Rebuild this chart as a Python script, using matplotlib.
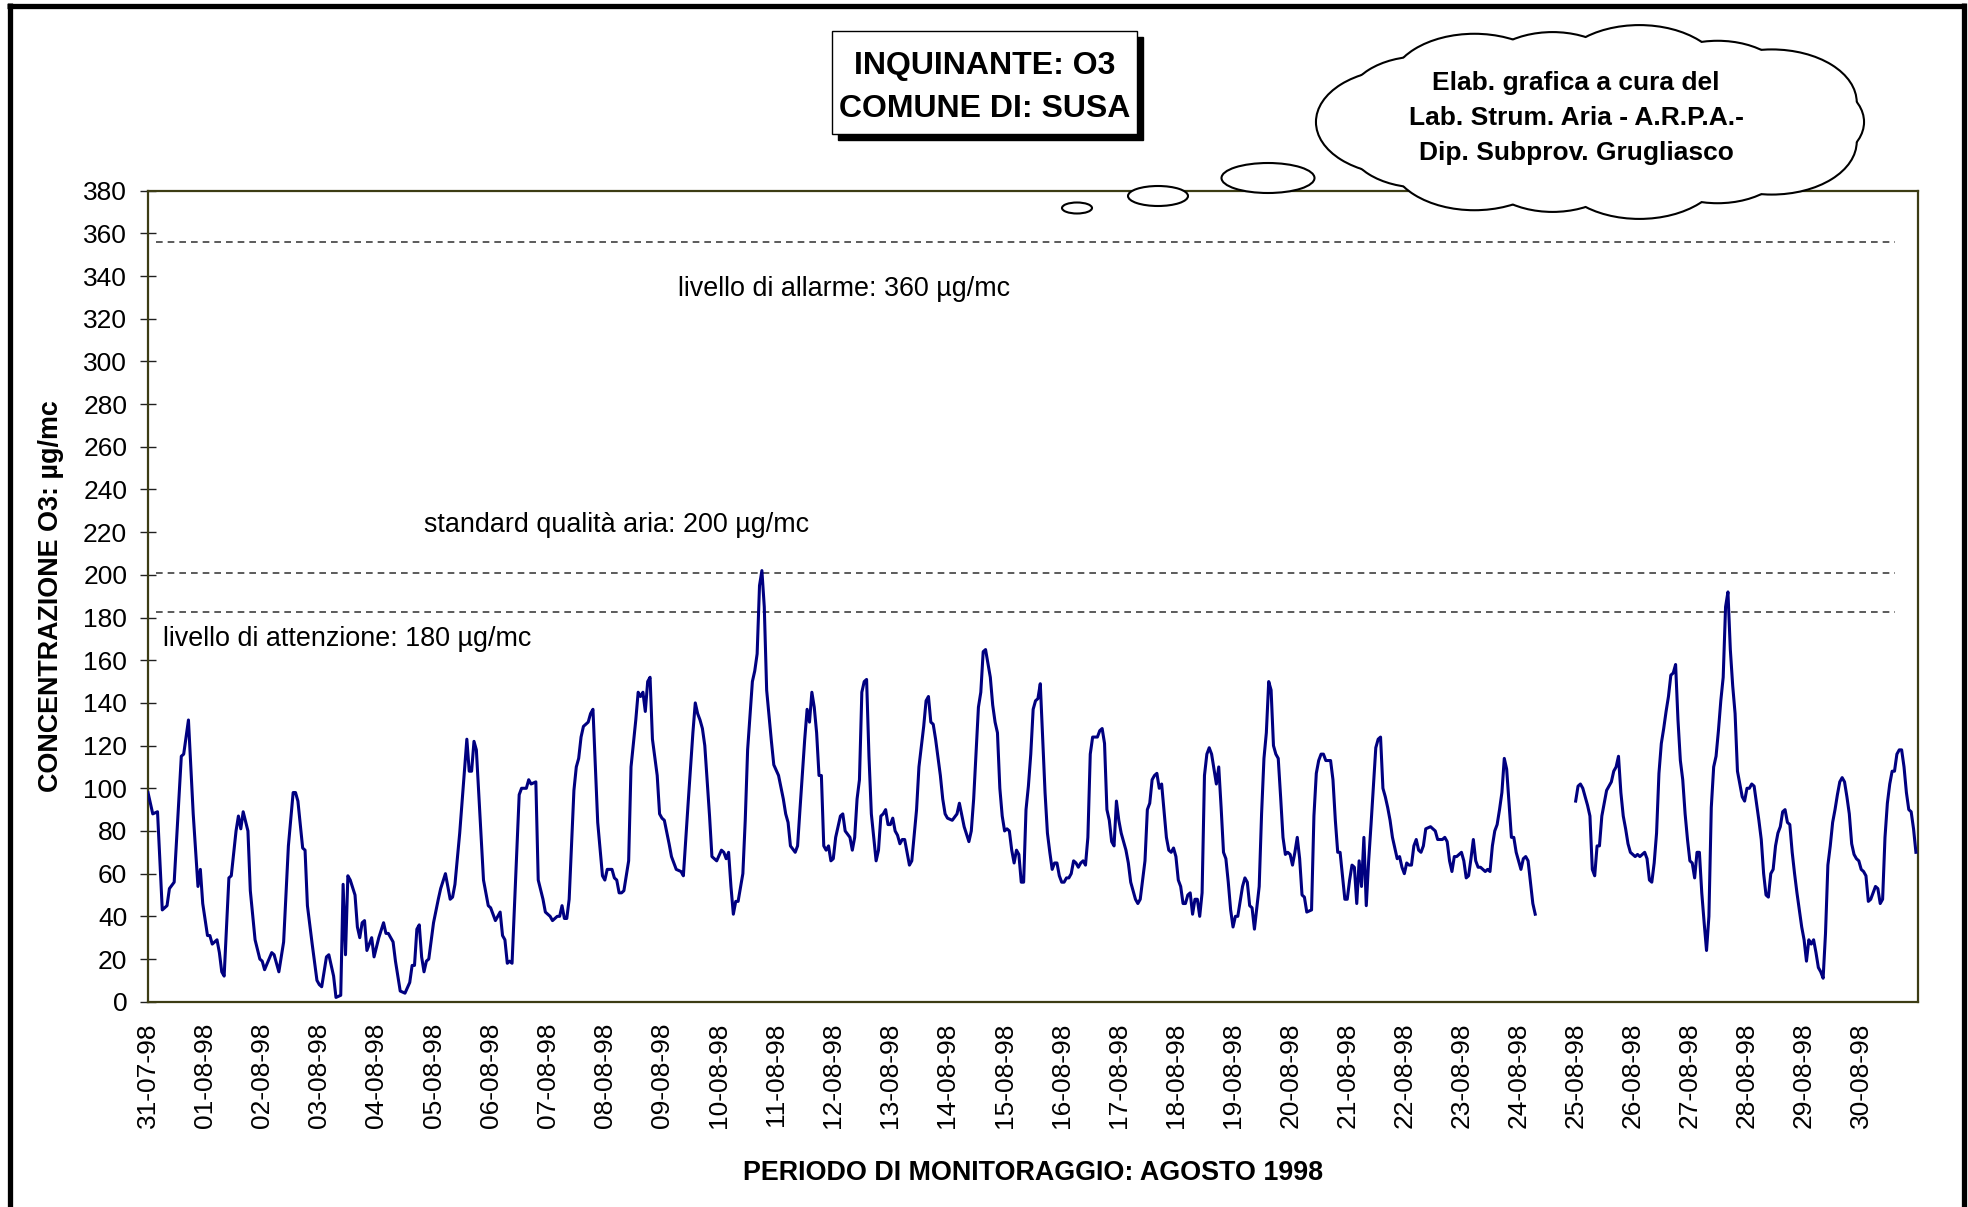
import numpy as np
import matplotlib
matplotlib.use("Agg")
import matplotlib.pyplot as plt
from matplotlib.patches import Ellipse, Rectangle

plt.rcParams['font.family'] = ['Liberation Sans', 'DejaVu Sans']

# hourly O3 readings (hour since 31-07-98 00:00, ug/mc)
# the instrument has no data between the two segments (24/25-08)
segment_1 = [
    (0, 98), (2, 88), (4, 89), (6, 43), (8, 45), (9, 53), (11, 56), (14, 115), (15, 116), (17, 132),
    (19, 88), (21, 54), (22, 62), (23, 46), (25, 31), (26, 31), (27, 27), (29, 29), (30, 23), (31, 14),
    (32, 12), (34, 58), (35, 59), (37, 80), (38, 87), (39, 81), (40, 89), (42, 80), (43, 52), (45, 29),
    (47, 20), (48, 19), (49, 15), (52, 23), (53, 22), (55, 14), (57, 28), (59, 73), (61, 98), (62, 98),
    (63, 94), (65, 72), (66, 71), (67, 45), (69, 27), (71, 10), (72, 8), (73, 7), (75, 21), (76, 22),
    (78, 12), (79, 2), (81, 3), (82, 55), (83, 22), (84, 59), (85, 57), (87, 50), (88, 35), (89, 30),
    (90, 37), (91, 38), (92, 24), (94, 30), (95, 21), (97, 30), (99, 37), (100, 32), (101, 32), (103, 28),
    (104, 19), (106, 5), (108, 4), (110, 9), (111, 17), (112, 17), (113, 34), (114, 36), (115, 21), (116, 14),
    (117, 19), (118, 20), (120, 37), (122, 48), (123, 53), (125, 60), (127, 48), (128, 49), (129, 55), (131, 79),
    (134, 123), (135, 108), (136, 108), (137, 122), (138, 118), (141, 57), (143, 45), (144, 44), (146, 38), (148, 42),
    (149, 31), (150, 29), (151, 18), (152, 19), (153, 18), (156, 97), (157, 100), (159, 100), (160, 104), (161, 102),
    (163, 103), (164, 57), (166, 48), (167, 42), (169, 40), (170, 38), (172, 40), (173, 40), (174, 45), (175, 39),
    (176, 39), (177, 48), (179, 99), (180, 110), (181, 114), (182, 124), (183, 129), (185, 131), (186, 135), (187, 137),
    (189, 84), (191, 59), (192, 57), (193, 62), (195, 62), (196, 58), (197, 57), (198, 51), (199, 51), (200, 52),
    (202, 66), (203, 110), (205, 132), (206, 145), (207, 143), (208, 145), (209, 136), (210, 150), (211, 152), (212, 123),
    (214, 106), (215, 88), (216, 86), (217, 85), (219, 74), (220, 68), (222, 62), (224, 61), (225, 59), (227, 93),
    (229, 126), (230, 140), (231, 135), (232, 132), (233, 128), (234, 120), (236, 87), (237, 68), (239, 66), (241, 71),
    (242, 70), (243, 67), (244, 70), (245, 54), (246, 41), (247, 47), (248, 47), (250, 60), (251, 85), (252, 118),
    (254, 150), (255, 155), (256, 163), (257, 195), (258, 202), (259, 185), (260, 146), (262, 122), (263, 111), (265, 106),
    (267, 95), (268, 88), (269, 84), (270, 73), (272, 70), (273, 73), (274, 90), (276, 123), (277, 137), (278, 131),
    (279, 145), (280, 138), (281, 126), (282, 106), (283, 106), (284, 73), (285, 71), (286, 73), (287, 66), (288, 67),
    (289, 77), (291, 87), (292, 88), (293, 80), (295, 77), (296, 71), (297, 77), (298, 95), (299, 104), (300, 145),
    (301, 150), (302, 151), (303, 115), (304, 88), (305, 77), (306, 66), (307, 71), (308, 87), (309, 88), (310, 90),
    (311, 83), (312, 83), (313, 86), (314, 80), (315, 78), (316, 74), (317, 76), (318, 76), (319, 70), (320, 64),
    (321, 66), (323, 90), (324, 110), (326, 129), (327, 141), (328, 143), (329, 131), (330, 130), (331, 123), (333, 106),
    (334, 95), (335, 88), (336, 86), (338, 85), (340, 88), (341, 93), (343, 82), (345, 75), (346, 80), (347, 95),
    (349, 138), (350, 145), (351, 164), (352, 165), (354, 152), (355, 139), (356, 131), (357, 126), (358, 100), (359, 87),
    (360, 80), (361, 81), (362, 80), (363, 71), (364, 65), (365, 71), (366, 69), (367, 56), (368, 56), (369, 90),
    (370, 101), (371, 116), (372, 137), (373, 141), (374, 142), (375, 149), (376, 123), (377, 98), (378, 79), (379, 70),
    (380, 62), (381, 65), (382, 65), (383, 59), (384, 56), (385, 56), (386, 58), (387, 58), (388, 60), (389, 66),
    (390, 65), (391, 63), (392, 65), (393, 66), (394, 64), (395, 77), (396, 116), (397, 124), (399, 124), (400, 127),
    (401, 128), (402, 121), (403, 90), (404, 85), (405, 75), (406, 73), (407, 94), (408, 85), (409, 79), (411, 71),
    (412, 65), (413, 56), (414, 52), (415, 48), (416, 46), (417, 48), (419, 66), (420, 90), (421, 93), (422, 104),
    (423, 106), (424, 107), (425, 100), (426, 102), (428, 77), (429, 71), (430, 70), (431, 72), (432, 68), (433, 57),
    (434, 54), (435, 46), (436, 46), (437, 50), (438, 51), (439, 41), (440, 48), (441, 48), (442, 40), (443, 51),
    (444, 106), (445, 116), (446, 119), (447, 116), (448, 109), (449, 102), (450, 110), (451, 91), (452, 70), (453, 67),
    (454, 56), (455, 43), (456, 35), (457, 40), (458, 40), (460, 54), (461, 58), (462, 56), (463, 45), (464, 44),
    (465, 34), (467, 54), (468, 88), (469, 114), (470, 126), (471, 150), (472, 146), (473, 120), (474, 116), (475, 114),
    (476, 96), (477, 77), (478, 69), (479, 70), (480, 69), (481, 64), (482, 70), (483, 77), (484, 67), (485, 50),
    (486, 49), (487, 42), (489, 43), (490, 87), (491, 107), (492, 113), (493, 116), (494, 116), (495, 113), (497, 113),
    (498, 104), (499, 85), (500, 70), (501, 70), (502, 59), (503, 48), (504, 48), (505, 57), (506, 64), (507, 63),
    (508, 46), (509, 66), (510, 54), (511, 77), (512, 45), (513, 66), (514, 83), (515, 101), (516, 119), (517, 123),
    (518, 124), (519, 100), (520, 96), (521, 91), (522, 85), (523, 77), (524, 72), (525, 67), (526, 68), (527, 63),
    (528, 60), (529, 65), (530, 64), (531, 64), (532, 73), (533, 76), (534, 71), (535, 70), (536, 73), (537, 81),
    (539, 82), (540, 81), (541, 80), (542, 76), (544, 76), (545, 77), (546, 75), (547, 66), (548, 61), (549, 68),
    (550, 68), (551, 69), (552, 70), (553, 66), (554, 58), (555, 59), (556, 67), (557, 76), (558, 66), (559, 63),
    (560, 63), (561, 62), (562, 61), (563, 62), (564, 61), (565, 73), (566, 80), (567, 83), (568, 90), (569, 98),
    (570, 114), (571, 109), (572, 93), (573, 77), (574, 77), (575, 70), (576, 66), (577, 62), (578, 67), (579, 68),
    (580, 66), (581, 56), (582, 46), (583, 41),
]
segment_2 = [
    (600, 94), (601, 101), (602, 102), (603, 100), (604, 96), (605, 92), (606, 87), (607, 62), (608, 59), (609, 73),
    (610, 73), (611, 87), (612, 93), (613, 99), (614, 101), (615, 103), (616, 108), (617, 110), (618, 115), (619, 98),
    (620, 87), (621, 81), (622, 74), (623, 70), (624, 69), (625, 68), (626, 69), (627, 68), (628, 69), (629, 70),
    (630, 67), (631, 57), (632, 56), (633, 65), (634, 79), (635, 107), (636, 121), (637, 128), (638, 136), (639, 143),
    (640, 153), (641, 154), (642, 158), (643, 132), (644, 113), (645, 104), (646, 88), (647, 76), (648, 66), (649, 65),
    (650, 58), (651, 70), (652, 70), (653, 51), (654, 37), (655, 24), (656, 40), (657, 91), (658, 110), (659, 115),
    (660, 127), (661, 141), (662, 152), (663, 185), (664, 192), (665, 165), (666, 148), (667, 135), (668, 108), (669, 102),
    (670, 96), (671, 94), (672, 100), (673, 100), (674, 102), (675, 101), (676, 93), (677, 85), (678, 76), (679, 60),
    (680, 50), (681, 49), (682, 60), (683, 62), (684, 73), (685, 79), (686, 82), (687, 89), (688, 90), (689, 84),
    (690, 83), (691, 70), (692, 60), (693, 51), (694, 43), (695, 35), (696, 29), (697, 19), (698, 29), (699, 27),
    (700, 29), (701, 23), (702, 16), (703, 14), (704, 11), (705, 32), (706, 64), (707, 73), (708, 84), (709, 90),
    (710, 97), (711, 103), (712, 105), (713, 103), (714, 96), (715, 88), (716, 74), (717, 69), (718, 67), (719, 66),
    (720, 62), (721, 61), (722, 59), (723, 47), (724, 48), (725, 51), (726, 54), (727, 53), (728, 46), (729, 48),
    (730, 77), (731, 93), (732, 102), (733, 108), (734, 108), (735, 116), (736, 118), (737, 118), (738, 110), (739, 98),
    (740, 90), (741, 89), (742, 81), (743, 70),
]

day_labels = ['31-07-98'] + ['%02d-08-98' % d for d in range(1, 31)]

# reference levels as drawn on the chart
level_values = [356, 201, 182.5]
level_texts = ['livello di allarme: 360 \u00b5g/mc',
               'standard qualit\u00e0 aria: 200 \u00b5g/mc',
               'livello di attenzione: 180 \u00b5g/mc']

W, H = 1968, 1207
fig = plt.figure(figsize=(W / 100, H / 100), dpi=100)
fig.patch.set_facecolor('white')

ax = fig.add_axes([148 / W, 1 - 1001.7 / H, (1918.3 - 148) / W, (1001.7 - 190.7) / H])
for seg in (segment_1, segment_2):
    h, v = zip(*seg)
    ax.plot(h, v, color='#000080', lw=2.2, solid_joinstyle='round', zorder=3)

ax.hlines(level_values, 3.5, 734, colors='#404040', lw=1.2, linestyles=(0, (4, 3)), zorder=2)

ax.set_xlim(0, 744)
ax.set_ylim(0, 380)
ax.set_yticks(np.arange(0, 381, 20))
ax.set_xticks(np.arange(0, 744, 24))
ax.set_xticklabels(day_labels, rotation=90, ha='center', va='top')
ax.tick_params(axis='y', direction='inout', length=12, width=1, color='#202020',
               labelsize=19, pad=9)
ax.tick_params(axis='x', length=0, labelsize=19, pad=15)
for s in ax.spines.values():
    s.set_color('#3c3c14')
    s.set_linewidth(1.6)

# overlay in pixel coordinates for frame, title box and callout
ov = fig.add_axes([0, 0, 1, 1], zorder=5)
ov.set_xlim(0, W)
ov.set_ylim(H, 0)
ov.axis('off')
ov.patch.set_alpha(0)

ov.plot([9.5, 9.5], [3, H], color='black', lw=3.8, solid_capstyle='butt')
ov.plot([7, 1965], [5.5, 5.5], color='black', lw=3.8, solid_capstyle='butt')
ov.plot([1964, 1964], [3, H], color='black', lw=3.8, solid_capstyle='butt')

fig.text(51 / W, 1 - 596 / H, 'CONCENTRAZIONE O3: \u00b5g/mc', rotation=90,
         ha='center', va='center', fontsize=19.4, fontweight='bold')
fig.text(1033 / W, 1 - 1173 / H, 'PERIODO DI MONITORAGGIO: AGOSTO 1998',
         ha='center', va='center', fontsize=19.4, fontweight='bold')

# title box with shadow
ov.add_patch(Rectangle((838, 37), 305, 103, facecolor='black', edgecolor='black', zorder=2))
ov.add_patch(Rectangle((832, 31), 305, 103, facecolor='white', edgecolor='black', lw=1.0, zorder=3))
ov.text(985, 66, 'INQUINANTE: O3', ha='center', va='center', fontsize=23, fontweight='bold', zorder=4)
ov.text(985, 109, 'COMUNE DI: SUSA', ha='center', va='center', fontsize=23, fontweight='bold', zorder=4)

# thought cloud: union of bumps, inner strokes covered by white fills
cx, cy = 1596, 122
n_bumps = 14
for i, t in enumerate(np.linspace(0, 2 * np.pi, n_bumps + 1)[:-1]):
    bw, bh = (168, 104) if i % 2 else (144, 90)
    bx, by = cx + 195 * np.cos(t), cy + 45 * np.sin(t)
    ov.add_patch(Ellipse((bx, by), bw, bh, facecolor='white', edgecolor='black', lw=3.0, zorder=2))
    ov.add_patch(Ellipse((bx, by), bw, bh, facecolor='white', edgecolor='none', zorder=3))
ov.add_patch(Ellipse((cx, cy), 420, 125, facecolor='white', edgecolor='none', zorder=3))
for (ex, ey, ew, eh) in [(1268, 178, 93, 30), (1158, 196, 60, 20), (1077, 208, 30, 11)]:
    ov.add_patch(Ellipse((ex, ey), ew, eh, facecolor='white', edgecolor='black', lw=1.5, zorder=3))
for yy, txt in zip([83, 118, 153], ['Elab. grafica a cura del', 'Lab. Strum. Aria - A.R.P.A.-',
                                   'Dip. Subprov. Grugliasco']):
    ov.text(1576, yy, txt, ha='center', va='center', fontsize=19, fontweight='bold', zorder=4)

# level annotations
for (tx, ty), txt in zip([(678, 289), (424, 525), (163, 639)], level_texts):
    ov.text(tx, ty, txt, ha='left', va='center', fontsize=19.4, zorder=4)

fig.savefig('out.png', dpi=100, facecolor='white')
